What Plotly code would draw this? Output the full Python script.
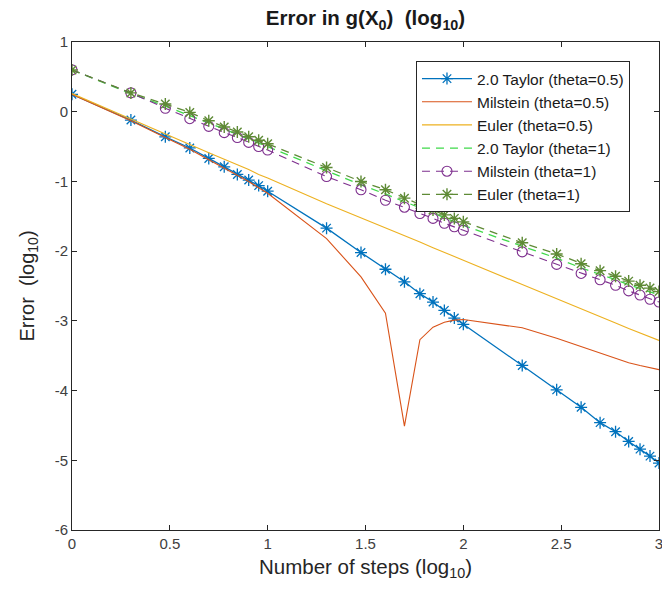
import plotly.graph_objects as go

x_steps = [0, 0.301, 0.477, 0.602, 0.699, 0.778, 0.845, 0.903, 0.954, 1.0,
           1.301, 1.477, 1.602, 1.699, 1.778, 1.845, 1.903, 1.954, 2.0,
           2.301, 2.477, 2.602, 2.699, 2.778, 2.845, 2.903, 2.954, 3.0]

taylor_05 = [0.25, -0.12, -0.36, -0.52, -0.67, -0.79, -0.90, -0.98, -1.06, -1.14,
             -1.67, -2.02, -2.26, -2.44, -2.61, -2.73, -2.85, -2.96, -3.05,
             -3.64, -3.99, -4.24, -4.46, -4.59, -4.73, -4.84, -4.94, -5.04]
milstein_05 = [0.25, -0.13, -0.37, -0.54, -0.69, -0.81, -0.92, -1.00, -1.09, -1.17,
               -1.82, -2.37, -2.89, -4.51, -3.27, -3.09, -3.02, -2.99, -2.98,
               -3.10, -3.25, -3.37, -3.47, -3.54, -3.60, -3.64, -3.67, -3.70]
euler_05 = [0.26, -0.10, -0.32, -0.47, -0.59, -0.68, -0.76, -0.83, -0.90, -0.95,
            -1.32, -1.52, -1.67, -1.78, -1.87, -1.95, -2.02, -2.08, -2.13,
            -2.48, -2.68, -2.83, -2.94, -3.03, -3.11, -3.17, -3.23, -3.28]
taylor_1 = [0.60, 0.26, 0.08, -0.05, -0.16, -0.25, -0.33, -0.39, -0.45, -0.50,
            -0.85, -1.05, -1.18, -1.29, -1.38, -1.46, -1.53, -1.58, -1.63,
            -1.93, -2.10, -2.24, -2.33, -2.41, -2.48, -2.54, -2.59, -2.63]
milstein_1 = [0.60, 0.27, 0.05, -0.10, -0.21, -0.30, -0.37, -0.44, -0.50, -0.55,
              -0.93, -1.12, -1.27, -1.37, -1.46, -1.53, -1.60, -1.65, -1.70,
              -2.01, -2.19, -2.32, -2.41, -2.49, -2.57, -2.63, -2.69, -2.73]
euler_1 = [0.60, 0.27, 0.11, -0.01, -0.13, -0.22, -0.29, -0.36, -0.41, -0.46,
           -0.80, -1.00, -1.12, -1.24, -1.33, -1.41, -1.48, -1.53, -1.58,
           -1.88, -2.04, -2.18, -2.28, -2.36, -2.43, -2.49, -2.53, -2.58]

x_tickvals = [0, 0.5, 1, 1.5, 2, 2.5, 3]
x_ticktext = ["0", "0.5", "1", "1.5", "2", "2.5", "3"]
y_tickvals = [-6, -5, -4, -3, -2, -1, 0, 1]
y_ticktext = ["-6", "-5", "-4", "-3", "-2", "-1", "0", "1"]

names = ["2.0 Taylor (theta=0.5)", "Milstein (theta=0.5)", "Euler (theta=0.5)",
         "2.0 Taylor (theta=1)", "Milstein (theta=1)", "Euler (theta=1)"]

FONT = "Liberation Sans, Arial"

fig = go.Figure()
fig.add_trace(go.Scatter(x=x_steps, y=taylor_05, name=names[0], mode="lines+markers",
                         line=dict(color="#0072BD", width=1.3),
                         marker=dict(symbol="asterisk-open", size=10,
                                     line=dict(color="#0072BD", width=1.3))))
fig.add_trace(go.Scatter(x=x_steps, y=milstein_05, name=names[1], mode="lines",
                         line=dict(color="#D95319", width=1.1)))
fig.add_trace(go.Scatter(x=x_steps, y=euler_05, name=names[2], mode="lines",
                         line=dict(color="#EDB120", width=1.1)))
fig.add_trace(go.Scatter(x=x_steps, y=taylor_1, name=names[3], mode="lines",
                         line=dict(color="#3FD94A", width=1.3, dash="8px,6px")))
fig.add_trace(go.Scatter(x=x_steps, y=milstein_1, name=names[4], mode="lines+markers",
                         line=dict(color="#7E2F8E", width=1.1, dash="8px,6px"),
                         marker=dict(symbol="circle-open", size=10,
                                     line=dict(color="#7E2F8E", width=1.1))))
fig.add_trace(go.Scatter(x=x_steps, y=euler_1, name=names[5], mode="lines+markers",
                         line=dict(color="#5E8A35", width=1.3, dash="8px,6px"),
                         marker=dict(symbol="asterisk-open", size=10,
                                     line=dict(color="#77AC30", width=1.4))))

axis_common = dict(showgrid=False, zeroline=False, showline=True, mirror="allticks",
                   linecolor="#262626", linewidth=1, ticks="inside", ticklen=5,
                   tickcolor="#262626", automargin=False, ticklabeloverflow="allow",
                   tickfont=dict(family=FONT, size=15, color="#404040"))

fig.update_layout(
    width=662, height=603,
    paper_bgcolor="white", plot_bgcolor="white",
    margin=dict(l=72, r=3, t=42, b=73, autoexpand=False),
    title=dict(text="<b>Error in g(X<sub>0</sub>)  (log<sub>10</sub>)</b>",
               xref="paper", x=0.5, xanchor="center", yref="container", y=0.97, yanchor="middle",
               automargin=False,
               font=dict(family=FONT, size=20.5, color="#1a1a1a")),
    xaxis=dict(range=[0, 3], tickvals=x_tickvals, ticktext=x_ticktext,
               title=dict(text="Number of steps (log<sub>10</sub>)", standoff=8,
                          font=dict(family=FONT, size=20.5, color="#262626")),
               **axis_common),
    yaxis=dict(range=[-6, 1], tickvals=y_tickvals, ticktext=y_ticktext,
               title=dict(text="Error  (log<sub>10</sub>)", standoff=14,
                          font=dict(family=FONT, size=20, color="#262626")),
               **axis_common),
    legend=dict(x=0.586, y=0.961, xanchor="left", yanchor="top",
                bgcolor="white", bordercolor="#262626", borderwidth=1,
                font=dict(family=FONT, size=15.5, color="#1a1a1a"),
                tracegroupgap=0, itemwidth=50),
    showlegend=True,
)

fig.write_html(
    "out.html",
    config={"displayModeBar": False},
    post_script=("document.body.style.margin='0';"
                 "document.body.style.overflow='hidden';"
                 "document.documentElement.style.overflow='hidden';"),
)
